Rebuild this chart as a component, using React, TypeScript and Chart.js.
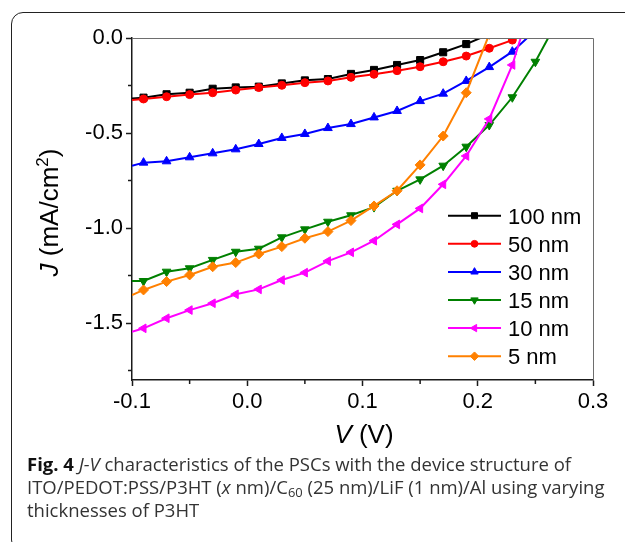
import React, { useEffect, useRef } from "react";
import { Chart, registerables } from "chart.js";
import { drawPoint } from "chart.js/helpers";

Chart.register(...registerables);

// ---- data ----
const voltages = [-0.1, -0.09, -0.07, -0.05, -0.03, -0.01, 0.01, 0.03, 0.05, 0.07, 0.09, 0.11, 0.13, 0.15, 0.17, 0.19, 0.21, 0.23, 0.25, 0.27];

const seriesLabels = ["100 nm", "50 nm", "30 nm", "15 nm", "10 nm", "5 nm"];

const j100nm = [-0.318, -0.314, -0.296, -0.288, -0.267, -0.26, -0.256, -0.239, -0.223, -0.216, -0.189, -0.168, -0.142, -0.116, -0.075, -0.032, 0.02, null, null, null];
const j50nm = [-0.326, -0.321, -0.309, -0.298, -0.288, -0.274, -0.261, -0.249, -0.235, -0.226, -0.207, -0.191, -0.172, -0.151, -0.125, -0.095, -0.054, -0.011, 0.05, null];
const j30nm = [-0.672, -0.656, -0.649, -0.628, -0.607, -0.586, -0.558, -0.526, -0.505, -0.474, -0.453, -0.418, -0.384, -0.332, -0.293, -0.226, -0.153, -0.072, 0.04, null];
const j15nm = [-1.279, -1.279, -1.23, -1.212, -1.168, -1.125, -1.109, -1.049, -1.007, -0.967, -0.933, -0.89, -0.804, -0.744, -0.672, -0.572, -0.458, -0.312, -0.125, 0.1];
const j10nm = [-1.546, -1.528, -1.475, -1.432, -1.396, -1.349, -1.323, -1.274, -1.235, -1.174, -1.128, -1.067, -0.981, -0.897, -0.77, -0.621, -0.426, -0.142, 0.25, null];
const j5nm = [-1.353, -1.326, -1.282, -1.247, -1.204, -1.182, -1.137, -1.098, -1.054, -1.019, -0.961, -0.884, -0.804, -0.668, -0.516, -0.288, 0.02, null, null, null];

const seriesValues = [j100nm, j50nm, j30nm, j15nm, j10nm, j5nm];
const seriesColors = ["#000000", "#ff0000", "#0000ff", "#008000", "#ff00ff", "#ff8000"];
const seriesPointStyles = ["rect", "circle", "triangle", "triangle", "triangle", "rectRot"];
const seriesRotations = [0, 0, 0, 180, -90, 0];
const seriesRadii = [5, 4, 5, 5, 5, 5];

const xMajorTicks = [-0.1, 0.0, 0.1, 0.2, 0.3];
const xMinorTicks = [-0.05, 0.05, 0.15, 0.25];
const yMajorTicks = [0.0, -0.5, -1.0, -1.5];
const yMinorTicks = [-0.25, -0.75, -1.25, -1.75];

const FONT = "'Liberation Sans', Arial, Helvetica, sans-serif";
const AXIS_COLOR = "#1a1a1a";

function drawSegments(ctx: CanvasRenderingContext2D, segs: { t: string; font: string; dy?: number }[], cx: number, baseline: number) {
  let total = 0;
  const widths = segs.map((s) => {
    ctx.font = s.font;
    const w = ctx.measureText(s.t).width;
    total += w;
    return w;
  });
  let x = cx - total / 2;
  ctx.textAlign = "left";
  ctx.textBaseline = "alphabetic";
  segs.forEach((s, i) => {
    ctx.font = s.font;
    ctx.fillText(s.t, x, baseline + (s.dy || 0));
    x += widths[i];
  });
}

const decorPlugin = {
  id: "decor",
  afterDraw(chart: any) {
    const { ctx, chartArea: a, scales } = chart;
    const xs = scales.x;
    const ys = scales.y;
    ctx.save();

    // top & right frame
    ctx.strokeStyle = "#6e6e6e";
    ctx.lineWidth = 1;
    ctx.beginPath();
    ctx.moveTo(a.left, Math.round(a.top) + 0.5);
    ctx.lineTo(Math.round(a.right) + 0.5, Math.round(a.top) + 0.5);
    ctx.lineTo(Math.round(a.right) + 0.5, a.bottom);
    ctx.stroke();

    // minor ticks
    ctx.strokeStyle = AXIS_COLOR;
    ctx.lineWidth = 1.5;
    for (const v of xMinorTicks) {
      const px = xs.getPixelForValue(v);
      ctx.beginPath();
      ctx.moveTo(px, a.bottom);
      ctx.lineTo(px, a.bottom + 4);
      ctx.stroke();
    }
    for (const v of yMinorTicks) {
      const py = ys.getPixelForValue(v);
      ctx.beginPath();
      ctx.moveTo(a.left, py);
      ctx.lineTo(a.left - 4, py);
      ctx.stroke();
    }

    // legend
    const lx1 = a.right - 145;
    const lx2 = a.right - 92;
    const tx = a.right - 85;
    const y0 = a.top + 177.7;
    const dy = 28.1;
    chart.data.datasets.forEach((ds: any, i: number) => {
      const y = y0 + i * dy;
      ctx.strokeStyle = ds.borderColor;
      ctx.fillStyle = ds.borderColor;
      ctx.lineWidth = 2;
      ctx.beginPath();
      ctx.moveTo(lx1, y);
      ctx.lineTo(lx2, y);
      ctx.stroke();
      ctx.lineWidth = 1;
      drawPoint(ctx, { pointStyle: seriesPointStyles[i], rotation: seriesRotations[i], radius: seriesRadii[i] * 0.85, borderWidth: 1 }, (lx1 + lx2) / 2, y);
      ctx.fillStyle = "#000";
      ctx.font = `22px ${FONT}`;
      ctx.textAlign = "left";
      ctx.textBaseline = "alphabetic";
      ctx.fillText(ds.label, tx, y + 7.9);
    });

    // axis titles
    ctx.fillStyle = "#000";
    const cxPlot = (a.left + a.right) / 2;
    drawSegments(
      ctx,
      [
        { t: "V", font: `italic 26px ${FONT}` },
        { t: " (V)", font: `26px ${FONT}` },
      ],
      cxPlot + 1.5,
      a.bottom + 63
    );
    ctx.save();
    ctx.translate(a.left - 74.5, (a.top + a.bottom) / 2 + 3.5);
    ctx.rotate(-Math.PI / 2);
    drawSegments(
      ctx,
      [
        { t: "J", font: `italic 26px ${FONT}` },
        { t: " (mA/cm", font: `26px ${FONT}` },
        { t: "2", font: `17px ${FONT}`, dy: -10 },
        { t: ")", font: `26px ${FONT}` },
      ],
      0,
      0
    );
    ctx.restore();

    ctx.restore();
  },
};

export default function App() {
  const ref = useRef<HTMLCanvasElement | null>(null);

  useEffect(() => {
    if (!ref.current) return;
    const datasets = seriesLabels.map((label, i) => {
      const r = seriesRadii[i];
      return {
        label,
        data: voltages
          .map((v, k) => ({ x: v, y: seriesValues[i][k] }))
          .filter((p) => p.y !== null),
        borderColor: seriesColors[i],
        backgroundColor: seriesColors[i],
        pointBackgroundColor: seriesColors[i],
        pointBorderColor: seriesColors[i],
        pointBorderWidth: 1,
        borderWidth: 2,
        pointStyle: seriesPointStyles[i],
        rotation: seriesRotations[i],
        pointRadius: (c: any) => (c.dataIndex === 0 ? 0 : r),
        pointHoverRadius: (c: any) => (c.dataIndex === 0 ? 0 : r),
        tension: 0,
        clip: 0,
        order: -i,
      };
    });

    const chart = new Chart(ref.current, {
      type: "line",
      data: { datasets },
      options: {
        animation: false,
        responsive: false,
        events: [],
        layout: { padding: { top: 38, right: 32, left: 0, bottom: 0 } },
        plugins: {
          legend: { display: false },
          tooltip: { enabled: false },
        },
        scales: {
          x: {
            type: "linear",
            min: -0.1,
            max: 0.3,
            afterBuildTicks: (s: any) => {
              s.ticks = xMajorTicks.map((v) => ({ value: v }));
            },
            afterFit: (s: any) => {
              s.height = 80;
            },
            ticks: {
              callback: (v: any) => Number(v).toFixed(1),
              color: "#000",
              font: { family: FONT, size: 22 },
              padding: 3,
              maxRotation: 0,
              autoSkip: false,
            },
            grid: { drawOnChartArea: false, drawTicks: true, tickLength: 6, tickWidth: 1.5, tickColor: AXIS_COLOR },
            border: { display: true, color: AXIS_COLOR, width: 1.5 },
          },
          y: {
            type: "linear",
            min: -1.8,
            max: 0,
            afterBuildTicks: (s: any) => {
              s.ticks = yMajorTicks.map((v) => ({ value: v }));
            },
            afterFit: (s: any) => {
              s.width = 132;
            },
            ticks: {
              callback: (v: any) => Number(v).toFixed(1),
              color: "#000",
              font: { family: FONT, size: 22 },
              padding: 3,
              autoSkip: false,
            },
            grid: { drawOnChartArea: false, drawTicks: true, tickLength: 6, tickWidth: 1.5, tickColor: AXIS_COLOR },
            border: { display: true, color: AXIS_COLOR, width: 1.5 },
          },
        },
      },
      plugins: [decorPlugin],
    } as any);

    return () => chart.destroy();
  }, []);

  return (
    <div style={{ position: "absolute", left: 0, top: 0, width: 625, height: 542, overflow: "hidden", background: "#fff" }}>
      <div
        style={{
          position: "absolute",
          left: 11,
          top: 12,
          width: 700,
          height: 540,
          border: "1.5px solid #222",
          borderTopLeftRadius: 12,
          borderBottomLeftRadius: 12,
          boxSizing: "border-box",
        }}
      />
      <canvas ref={ref} width={625} height={460} style={{ position: "absolute", left: 0, top: 0, width: 625, height: 460, display: "block" }} />
      <div
        style={{
          position: "absolute",
          left: 27,
          top: 452,
          width: 598,
          fontFamily: "'Open Sans', 'Noto Sans', sans-serif",
          fontSize: 18.5,
          lineHeight: "23px",
          color: "#333",
          whiteSpace: "nowrap",
        }}
      >
        <b style={{ color: "#111" }}>Fig. 4</b> <i>J-V</i> characteristics of the PSCs with the device structure of
        <br />
        ITO/PEDOT:PSS/P3HT (<i>x</i> nm)/C<sub style={{ fontSize: "0.7em", lineHeight: 0, verticalAlign: "-0.25em" }}>60</sub> (25 nm)/LiF (1 nm)/Al using varying
        <br />
        thicknesses of P3HT
      </div>
    </div>
  );
}
